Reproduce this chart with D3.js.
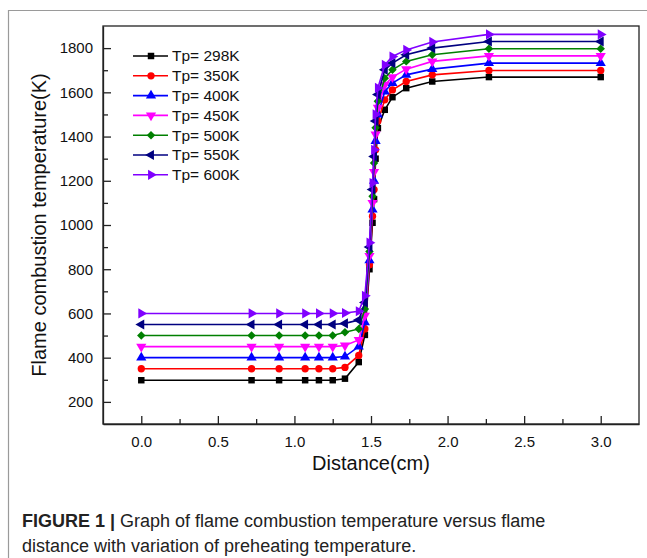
<!DOCTYPE html>
<html>
<head>
<meta charset="utf-8">
<script src="https://cdn.jsdelivr.net/npm/d3@7"></script>
<style>
  body { margin: 0; background: #fff; }
  svg { display: block; font-family: Arial, "Liberation Sans", sans-serif; }
</style>
</head>
<body>
<script>
// chart size
var w = 647;
var h = 558;
var margin = {left: 103, right: 8, top: 26, bottom: 134};

// data
var distance = [0, 0.72, 0.9, 1.07, 1.16, 1.25, 1.33, 1.42, 1.46, 1.49, 1.51, 1.52, 1.53, 1.545, 1.59, 1.64, 1.73, 1.9, 2.27, 3.0];
var seriesNames = ["Tp= 298K", "Tp= 350K", "Tp= 400K", "Tp= 450K", "Tp= 500K", "Tp= 550K", "Tp= 600K"];
var t298 = [298, 298, 298, 298, 298, 298, 305, 380, 503, 800, 1010, 1117, 1300, 1438, 1521, 1578, 1619, 1649, 1669, 1669];
var t350 = [350, 350, 350, 350, 350, 350, 356, 410, 530, 820, 1040, 1160, 1340, 1470, 1566, 1611, 1649, 1679, 1699, 1699];
var t400 = [400, 400, 400, 400, 400, 400, 405, 450, 560, 840, 1070, 1200, 1380, 1500, 1604, 1642, 1679, 1705, 1732, 1732];
var t450 = [450, 450, 450, 450, 450, 450, 455, 480, 590, 860, 1100, 1240, 1410, 1530, 1634, 1669, 1705, 1740, 1765, 1765];
var t500 = [500, 500, 500, 500, 500, 500, 515, 530, 620, 880, 1130, 1280, 1440, 1560, 1664, 1702, 1740, 1770, 1797, 1797];
var t550 = [550, 550, 550, 550, 550, 550, 555, 570, 650, 900, 1160, 1310, 1470, 1590, 1702, 1732, 1770, 1800, 1830, 1830];
var t600 = [600, 600, 600, 600, 600, 600, 602, 610, 680, 920, 1190, 1340, 1500, 1620, 1724, 1762, 1792, 1828, 1862, 1862];
var allValues = [t298, t350, t400, t450, t500, t550, t600];
var colors = ["#000000", "#ff0000", "#0000ff", "#ff00ff", "#008000", "#000080", "#8000ff"];
var xTicks = [0, 0.5, 1.0, 1.5, 2.0, 2.5, 3.0];
var yTicks = [200, 400, 600, 800, 1000, 1200, 1400, 1600, 1800];

// marker shapes: type + rotation
var shapes = [
  {type: d3.symbolSquare, rot: 0, size: 42},
  {type: d3.symbolCircle, rot: 0, size: 42},
  {type: d3.symbolTriangle, rot: 0, size: 45},
  {type: d3.symbolTriangle, rot: 180, size: 45},
  {type: d3.symbolSquare, rot: 45, size: 36},
  {type: d3.symbolTriangle, rot: -90, size: 45},
  {type: d3.symbolTriangle, rot: 90, size: 45}
];

var series = seriesNames.map(function(name, i) {
  return {
    name: name,
    color: colors[i],
    shape: shapes[i],
    points: distance.map(function(d, j) { return {x: d, y: allValues[i][j]}; })
  };
});

var svg = d3.select("body").append("svg")
  .attr("width", w)
  .attr("height", h);

// outer figure border
svg.append("path")
  .attr("d", "M8.5," + h + "V10.5H" + w)
  .attr("fill", "none")
  .attr("stroke", "#9a9a9a")
  .attr("stroke-width", 1.2);

var xScale = d3.scaleLinear()
  .domain([-0.25, 3.25])
  .range([margin.left, w - margin.right]);

var yScale = d3.scaleLinear()
  .domain([100, 1900])
  .range([h - margin.bottom, margin.top]);

var x0 = xScale.range()[0], x1 = xScale.range()[1];
var y0 = yScale.range()[0], y1 = yScale.range()[1];

// x axis (ticks point inward)
var xAxis = d3.axisBottom(xScale)
  .tickValues(xTicks)
  .tickFormat(d3.format(".1f"))
  .tickSizeInner(-8)
  .tickSizeOuter(0)
  .tickPadding(12);

var gx = svg.append("g")
  .attr("transform", "translate(0," + y0 + ")")
  .call(xAxis);

var xMinor = d3.axisBottom(xScale)
  .tickValues(d3.range(0.25, 3.0, 0.5))
  .tickFormat("")
  .tickSizeInner(-5)
  .tickSizeOuter(0);

svg.append("g")
  .attr("transform", "translate(0," + y0 + ")")
  .call(xMinor)
  .select(".domain").remove();

// y axis
var yAxis = d3.axisLeft(yScale)
  .tickValues(yTicks)
  .tickFormat(d3.format("d"))
  .tickSizeInner(-8)
  .tickSizeOuter(0)
  .tickPadding(10);

var gy = svg.append("g")
  .attr("transform", "translate(" + x0 + ",0)")
  .call(yAxis);

var yMinor = d3.axisLeft(yScale)
  .tickValues(d3.range(300, 1900, 200))
  .tickFormat("")
  .tickSizeInner(-5)
  .tickSizeOuter(0);

svg.append("g")
  .attr("transform", "translate(" + x0 + ",0)")
  .call(yMinor)
  .select(".domain").remove();

svg.selectAll(".tick text")
  .attr("font-size", 15)
  .attr("fill", "#111");
svg.selectAll(".tick line, .domain")
  .attr("stroke", "#222")
  .attr("stroke-width", 1.3);

// frame box
svg.append("rect")
  .attr("x", x0)
  .attr("y", y1)
  .attr("width", x1 - x0)
  .attr("height", y0 - y1)
  .attr("fill", "none")
  .attr("stroke", "#222")
  .attr("stroke-width", 1.3);

// axis titles
svg.append("text")
  .attr("x", (x0 + x1) / 2)
  .attr("y", y0 + 46)
  .attr("text-anchor", "middle")
  .attr("font-size", 20)
  .attr("fill", "#111")
  .text("Distance(cm)");

svg.append("text")
  .attr("transform", "translate(46," + ((y0 + y1) / 2) + ") rotate(-90)")
  .attr("text-anchor", "middle")
  .attr("font-size", 20)
  .attr("fill", "#111")
  .text("Flame combustion temperature(K)");

// lines
var line = d3.line()
  .x(function(d) { return xScale(d.x); })
  .y(function(d) { return yScale(d.y); });

function symbolPath(s) {
  return d3.symbol().type(s.type).size(s.size)();
}

series.forEach(function(s) {
  var g = svg.append("g");
  g.append("path")
    .datum(s.points)
    .attr("fill", "none")
    .attr("stroke", s.color)
    .attr("stroke-width", 1.6)
    .attr("d", line);

  g.selectAll("path.mk")
    .data(s.points)
    .enter().append("path")
    .attr("class", "mk")
    .attr("d", symbolPath(s.shape))
    .attr("fill", s.color)
    .attr("transform", function(d) {
      return "translate(" + xScale(d.x) + "," + yScale(d.y) + ") rotate(" + s.shape.rot + ")";
    });
});

// legend
var legend = svg.append("g")
  .attr("transform", "translate(133,56)");

var rows = legend.selectAll("g")
  .data(series)
  .enter().append("g")
  .attr("transform", function(d, i) { return "translate(0," + (i * 19.8) + ")"; });

rows.append("line")
  .attr("x1", 0).attr("x2", 35)
  .attr("stroke", function(d) { return d.color; })
  .attr("stroke-width", 1.6);

rows.append("path")
  .attr("d", function(d) { return symbolPath(d.shape); })
  .attr("fill", function(d) { return d.color; })
  .attr("transform", function(d) { return "translate(18,0) rotate(" + d.shape.rot + ")"; });

rows.append("text")
  .attr("x", 39)
  .attr("y", 0)
  .attr("dy", "0.35em")
  .attr("font-size", 15.5)
  .attr("fill", "#111")
  .text(function(d) { return d.name; });

// caption
var cap1 = svg.append("text")
  .attr("x", 22)
  .attr("y", 527)
  .attr("font-size", 18)
  .attr("fill", "#222");
cap1.append("tspan").attr("font-weight", "bold").text("FIGURE 1 | ");
cap1.append("tspan").text("Graph of flame combustion temperature versus flame");

svg.append("text")
  .attr("x", 22)
  .attr("y", 552)
  .attr("font-size", 18)
  .attr("fill", "#222")
  .text("distance with variation of preheating temperature.");
</script>
</body>
</html>
